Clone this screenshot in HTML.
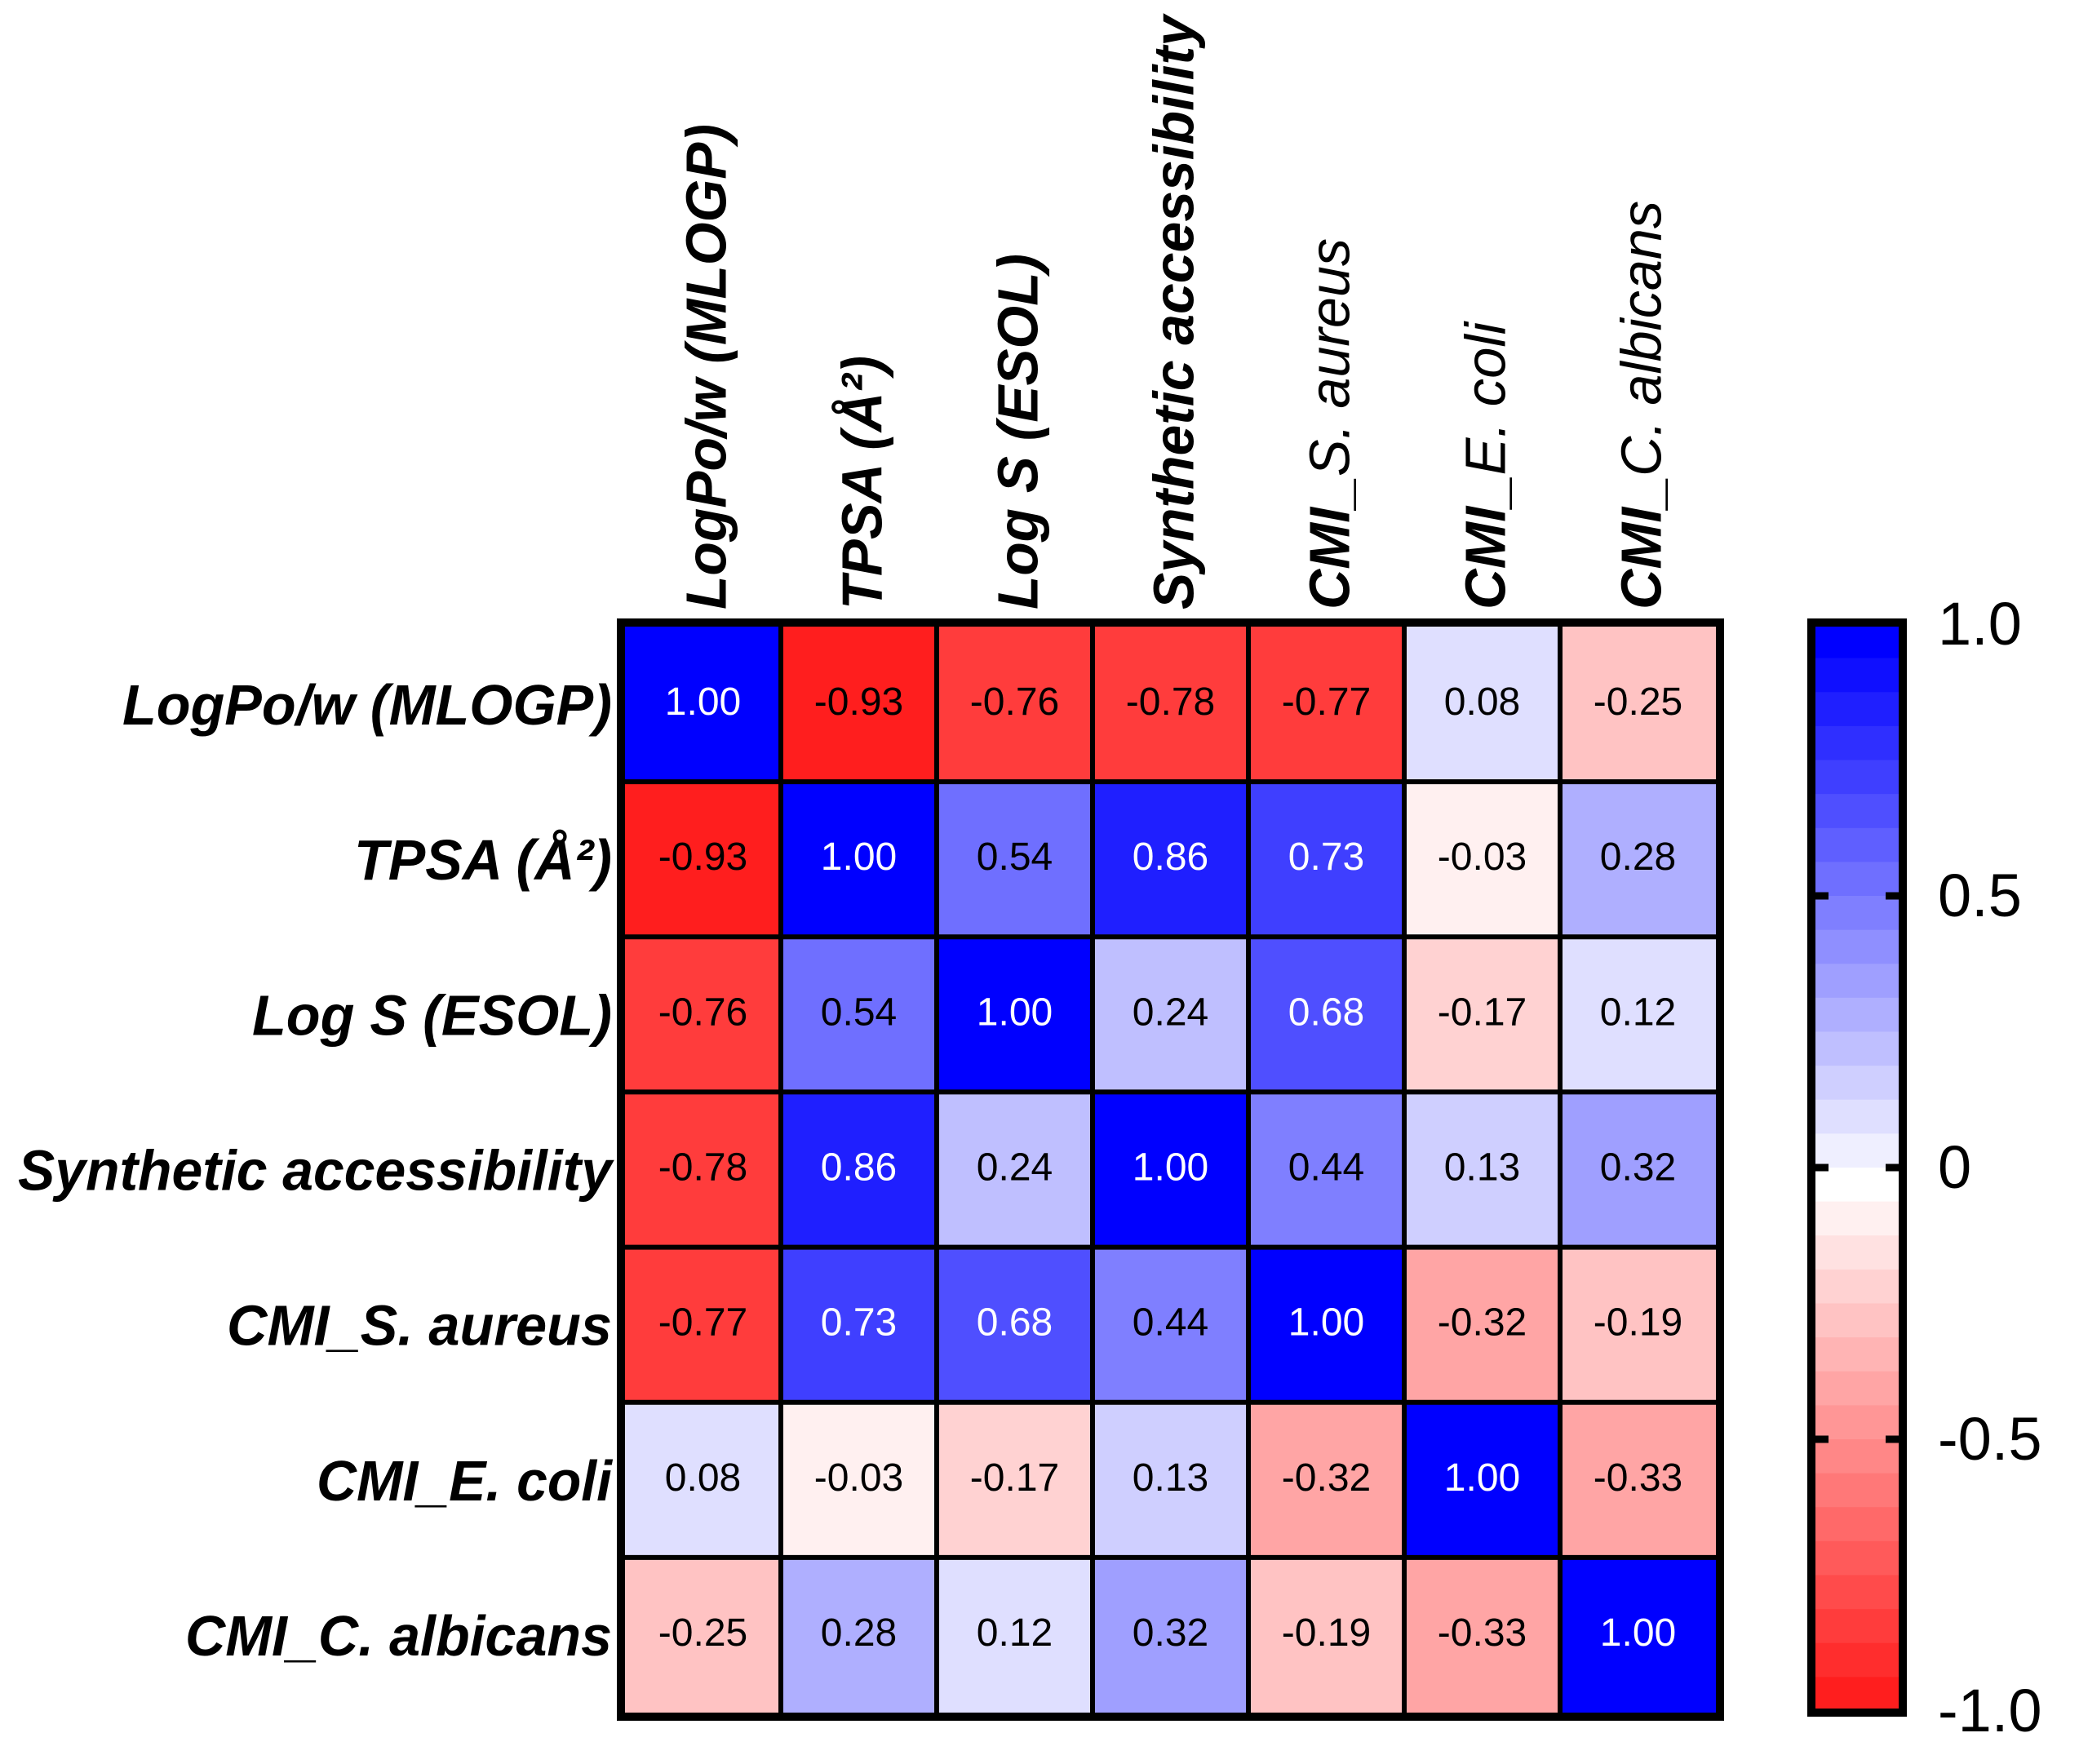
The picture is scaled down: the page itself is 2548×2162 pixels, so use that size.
<!DOCTYPE html>
<html><head><meta charset="utf-8"><style>html,body{margin:0;padding:0;background:#fff;}svg{display:block;}</style></head>
<body>
<svg id="chart" width="2548" height="2162" viewBox="0 0 2548 2162" xmlns="http://www.w3.org/2000/svg" font-family="'Liberation Sans', Arial, sans-serif">
<g id="cells"></g>
<g id="grid"></g>
<g id="rowlabels"></g>
<g id="collabels"></g>
<g id="cbar"></g>
</svg>
<script>
const rowNames = [["LogPo/w (MLOGP)"],["TPSA (Å²)"],["Log S (ESOL)"],["Synthetic accessibility"],["CMI_","S. aureus"],["CMI_","E. coli"],["CMI_","C. albicans"]];
const rowLens = [600, 316, 441, 728, 472, 362, 523];
const colLens = [595, 311, 436, 728, 455, 352, 501];
const row0 = [1.00, -0.93, -0.76, -0.78, -0.77, 0.08, -0.25];
const row1 = [-0.93, 1.00, 0.54, 0.86, 0.73, -0.03, 0.28];
const row2 = [-0.76, 0.54, 1.00, 0.24, 0.68, -0.17, 0.12];
const row3 = [-0.78, 0.86, 0.24, 1.00, 0.44, 0.13, 0.32];
const row4 = [-0.77, 0.73, 0.68, 0.44, 1.00, -0.32, -0.19];
const row5 = [0.08, -0.03, -0.17, 0.13, -0.32, 1.00, -0.33];
const row6 = [-0.25, 0.28, 0.12, 0.32, -0.19, -0.33, 1.00];
const matrix = [row0,row1,row2,row3,row4,row5,row6];
const cbTicks = [1.0, 0.5, 0, -0.5, -1.0];
const cbTickLabels = ["1.0","0.5","0","-0.5","-1.0"];

const NS="http://www.w3.org/2000/svg";
const X0=766, X1=2103, Y0=768, Y1=2099, N=7;
const cw=(X1-X0)/N, ch=(Y1-Y0)/N;
const xc=i=>X0+cw*i, yc=j=>Y0+ch*j;
const CBX0=2225, CBX1=2327, CBY0=765, CBY1=2097;
const cbY=v=>CBY0+(1-v)/2*(CBY1-CBY0);
function el(t,a,p){const e=document.createElementNS(NS,t);for(const k in a)e.setAttribute(k,a[k]);p.appendChild(e);return e;}
function hex(c){c=Math.max(0,Math.min(255,Math.round(c)));return c.toString(16).padStart(2,'0');}
function color(v){
  if(v>=0){const c=255-16*Math.ceil(v*16-1e-9);return '#'+hex(c)+hex(c)+'ff';}
  const c=255-15*Math.ceil(-v*16-1e-9);return '#ff'+hex(c)+hex(c);
}
const cells=document.getElementById('cells');
matrix.forEach((row,j)=>row.forEach((v,i)=>{
  const r=el('rect',{x:xc(i),y:yc(j),width:cw+0.5,height:ch+0.5,fill:color(v)},cells);
  
  
  const t=el('text',{x:xc(i)+cw/2,y:yc(j)+ch/2+13,'text-anchor':'middle','font-size':48,fill:v>0.6?'#fff':'#000'},cells);
  t.textContent=v.toFixed(2);
  
  
}));
const grid=document.getElementById('grid');
for(let k=1;k<N;k++){
  el('line',{x1:xc(k),x2:xc(k),y1:Y0,y2:Y1,stroke:'#000','stroke-width':6},grid);
  el('line',{x1:X0,x2:X1,y1:yc(k),y2:yc(k),stroke:'#000','stroke-width':6},grid);
}
el('rect',{x:X0-5,y:Y0-5,width:X1-X0+10,height:Y1-Y0+10,fill:'none',stroke:'#000','stroke-width':10},grid);

const rl=document.getElementById('rowlabels');
rowNames.forEach((n,j)=>{
  const t=el('text',{x:750,y:yc(j)+ch/2+25,'text-anchor':'end','font-size':70,'font-weight':'bold','font-style':'italic',textLength:rowLens[j],lengthAdjust:'spacingAndGlyphs'},rl);
  t.textContent=n.join('');
  
  
});
const cl=document.getElementById('collabels');
rowNames.forEach((n,i)=>{
  const x=xc(i)+cw/2+28, y=747;
  const t=el('text',{x:x,y:y,transform:`rotate(-90 ${x} ${y})`,'font-size':70,'font-style':'italic',textLength:colLens[i],lengthAdjust:'spacingAndGlyphs'},cl);
  const a=el('tspan',{'font-weight':'bold'},t);a.textContent=n[0];
  if(n[1]){const b=el('tspan',{'font-weight':'normal'},t);b.textContent=n[1];}
  
  
});

const cb=document.getElementById('cbar');
for(let s=0;s<32;s++){
  const vTop=1-s/16, vBot=1-(s+1)/16;
  let c;
  if(vBot>=0){const k=Math.round(vBot*16);c=255-16*(k+1);c='#'+hex(c)+hex(c)+'ff';}
  else{const k=Math.round(-vTop*16);c=255-15*k;c='#ff'+hex(c)+hex(c);}
  const r=el('rect',{x:CBX0,y:cbY(vTop),width:CBX1-CBX0,height:cbY(vBot)-cbY(vTop)+0.5,fill:c},cb);
  
  
}
el('rect',{x:CBX0-5,y:CBY0-2,width:CBX1-CBX0+10,height:CBY1-CBY0+4,fill:'none',stroke:'#000','stroke-width':10},cb);
cbTicks.forEach((v,i)=>{
  const y=cbY(v);
  if(v<1&&v>-1){
    el('line',{x1:CBX0,x2:CBX0+16,y1:y,y2:y,stroke:'#000','stroke-width':9},cb);
    el('line',{x1:CBX1-16,x2:CBX1,y1:y,y2:y,stroke:'#000','stroke-width':9},cb);
  }
  const t=el('text',{x:2375,y:y+25,'font-size':74},cb);
  t.textContent=cbTickLabels[i];
  
  
});
</script>
</body></html>
